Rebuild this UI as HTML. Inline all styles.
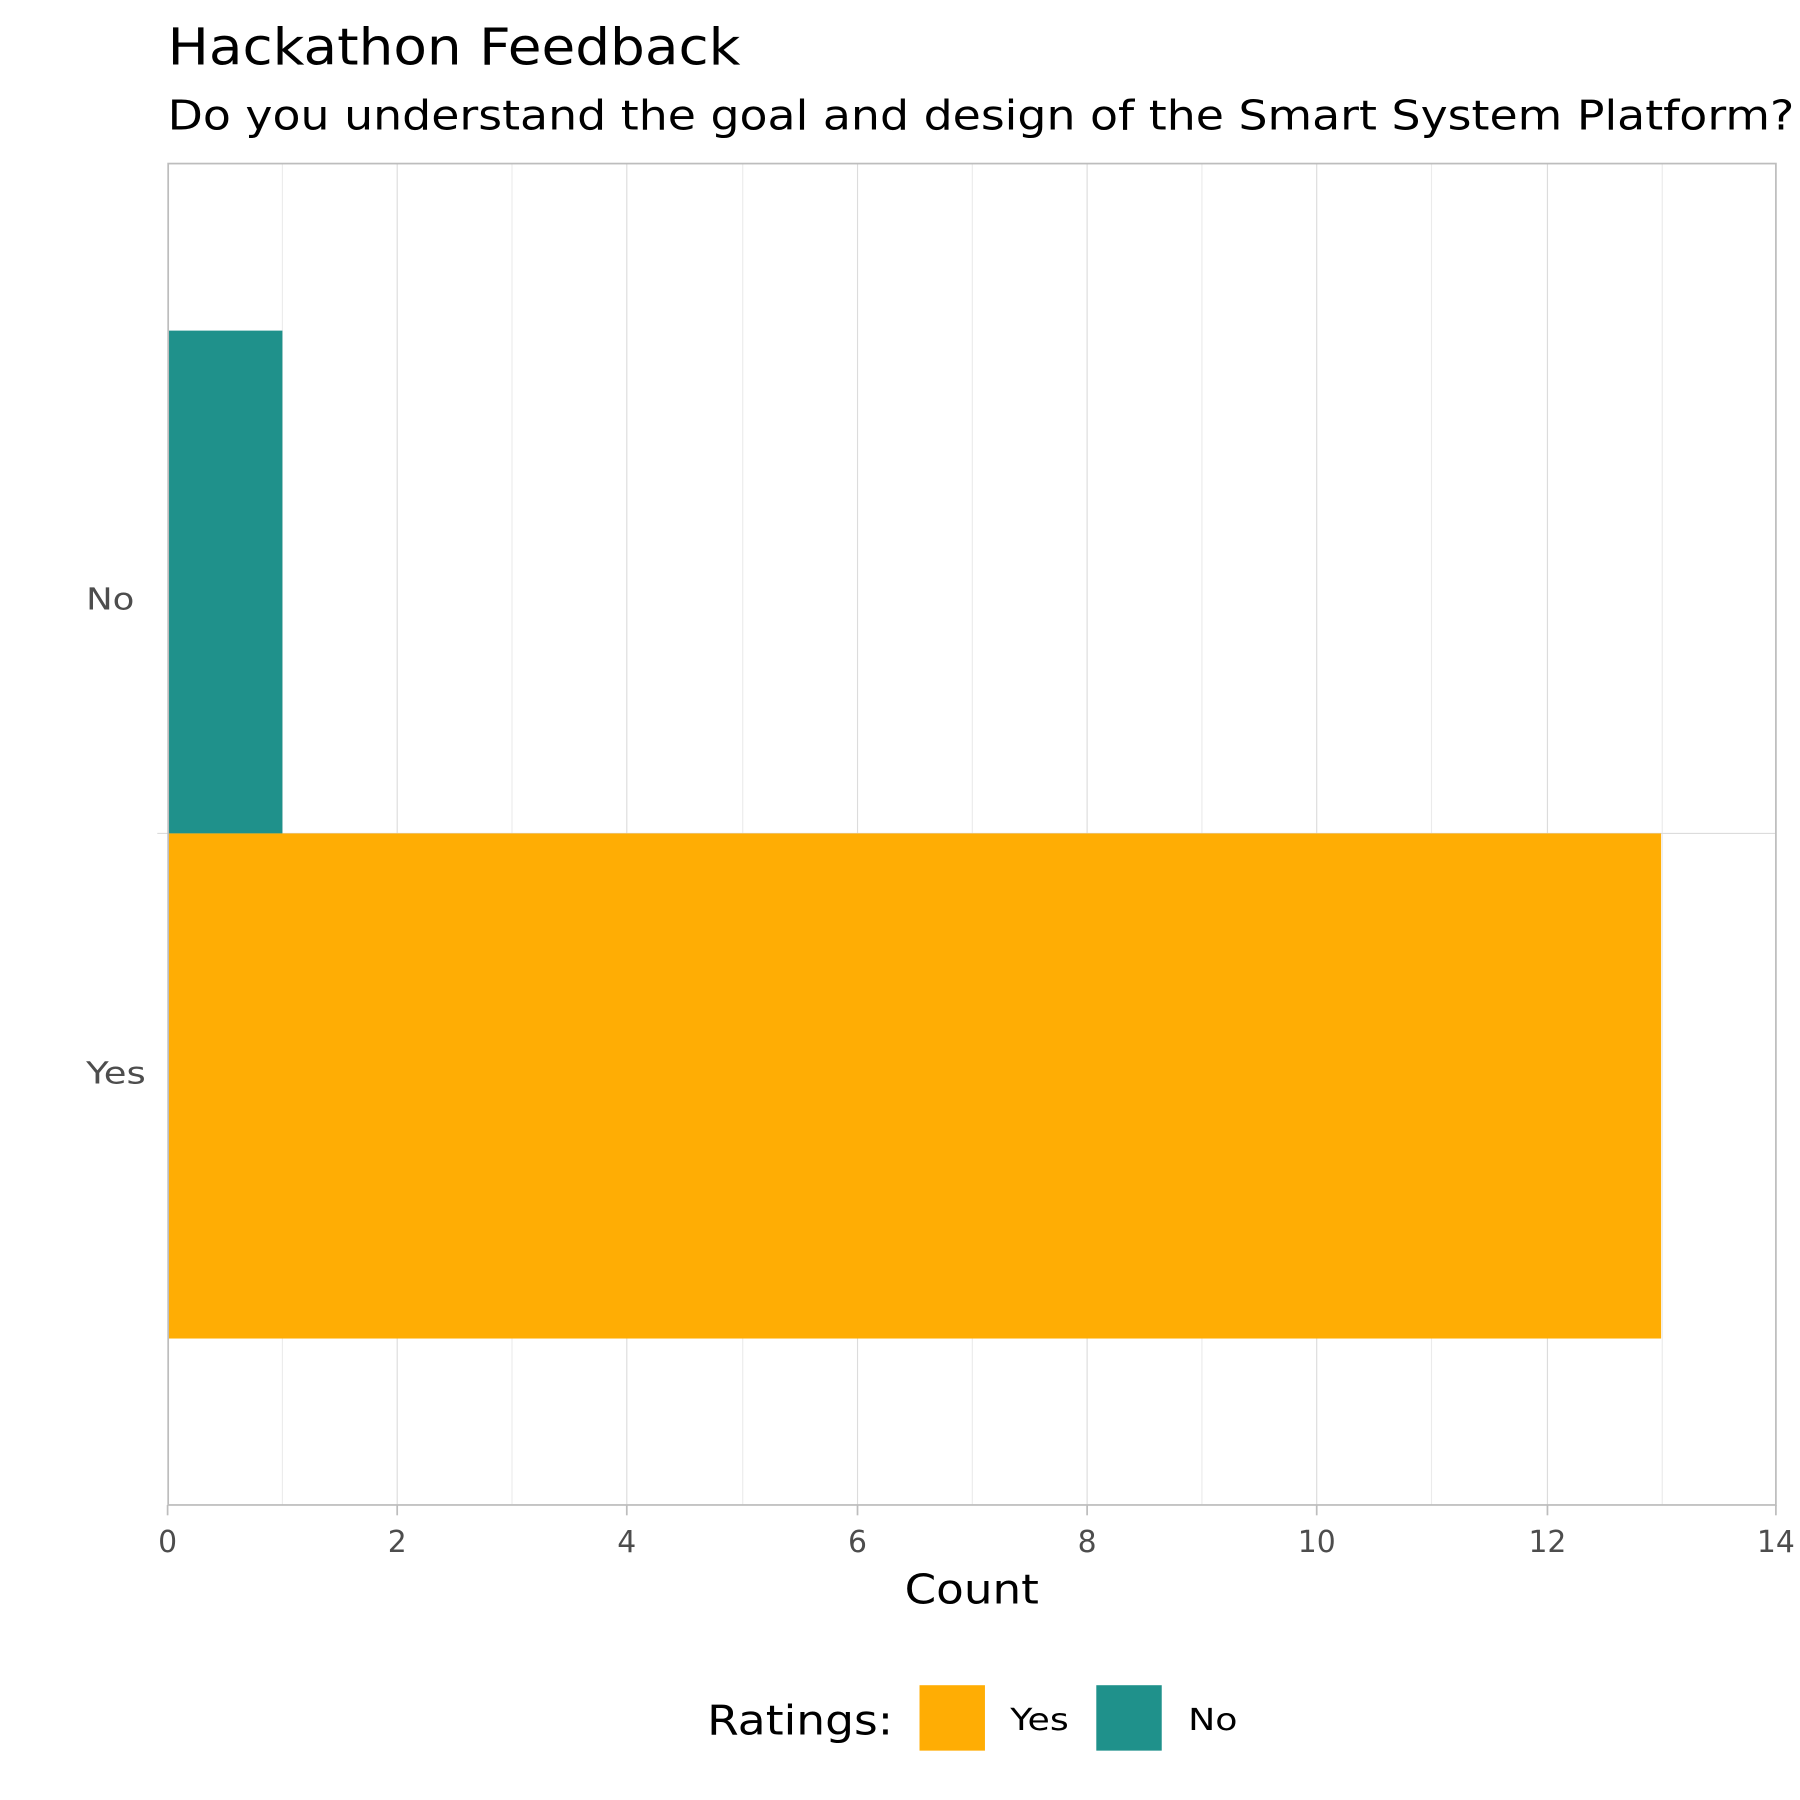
<!DOCTYPE html>
<html><head><meta charset="utf-8"><style>html,body{margin:0;padding:0;background:#fff}svg{display:block}</style></head>
<body>
<svg width="1800" height="1800" viewBox="0 0 1568 1568" xmlns="http://www.w3.org/2000/svg" font-family="DejaVu Sans, Liberation Sans, sans-serif">
<rect width="1568" height="1568" fill="#fff"/>
<text x="146" y="56" font-size="44" fill="#000" textLength="499" lengthAdjust="spacingAndGlyphs">Hackathon Feedback</text>
<text x="146" y="113" font-size="36" fill="#000" textLength="1417" lengthAdjust="spacingAndGlyphs">Do you understand the goal and design of the Smart System Platform?</text>
<g stroke-width="1">
<line x1="246" y1="142" x2="246" y2="1311" stroke="#ebebeb"/>
<line x1="446" y1="142" x2="446" y2="1311" stroke="#ebebeb"/>
<line x1="647" y1="142" x2="647" y2="1311" stroke="#ebebeb"/>
<line x1="847" y1="142" x2="847" y2="1311" stroke="#ebebeb"/>
<line x1="1047" y1="142" x2="1047" y2="1311" stroke="#ebebeb"/>
<line x1="1247" y1="142" x2="1247" y2="1311" stroke="#ebebeb"/>
<line x1="1448" y1="142" x2="1448" y2="1311" stroke="#ebebeb"/>
<line x1="346" y1="142" x2="346" y2="1311" stroke="#dcdcdc"/>
<line x1="546" y1="142" x2="546" y2="1311" stroke="#dcdcdc"/>
<line x1="747" y1="142" x2="747" y2="1311" stroke="#dcdcdc"/>
<line x1="947" y1="142" x2="947" y2="1311" stroke="#dcdcdc"/>
<line x1="1147" y1="142" x2="1147" y2="1311" stroke="#dcdcdc"/>
<line x1="1348" y1="142" x2="1348" y2="1311" stroke="#dcdcdc"/>
<line x1="137" y1="726" x2="1547" y2="726" stroke="#dcdcdc"/>
</g>
<rect x="146" y="288" width="100" height="438" fill="#1f918b"/>
<rect x="146" y="726" width="1301" height="440" fill="#ffad04"/>
<rect x="146.5" y="142.5" width="1400.5" height="1168.5" fill="none" stroke="#bdbdbd" stroke-width="1.5"/>
<g stroke="#bdbdbd" stroke-width="1.5">
<line x1="146" y1="1311" x2="146" y2="1320"/><line x1="346" y1="1311" x2="346" y2="1320"/>
<line x1="546" y1="1311" x2="546" y2="1320"/><line x1="747" y1="1311" x2="747" y2="1320"/>
<line x1="947" y1="1311" x2="947" y2="1320"/><line x1="1147" y1="1311" x2="1147" y2="1320"/>
<line x1="1348" y1="1311" x2="1348" y2="1320"/><line x1="1547" y1="1311" x2="1547" y2="1320"/>
</g>
<g font-size="26" fill="#4d4d4d" text-anchor="middle">
<text x="146" y="1352">0</text><text x="346" y="1352">2</text><text x="546" y="1352">4</text>
<text x="747" y="1352">6</text><text x="947" y="1352">8</text><text x="1147" y="1352">10</text>
<text x="1348" y="1352">12</text><text x="1547" y="1352">14</text>
</g>
<text x="75" y="531" font-size="26" fill="#4d4d4d" textLength="42" lengthAdjust="spacingAndGlyphs">No</text>
<text x="75" y="944" font-size="26" fill="#4d4d4d" textLength="52" lengthAdjust="spacingAndGlyphs">Yes</text>
<text x="788" y="1397" font-size="36" fill="#000" textLength="117" lengthAdjust="spacingAndGlyphs">Count</text>
<text x="616" y="1511" font-size="36" fill="#000" textLength="162" lengthAdjust="spacingAndGlyphs">Ratings:</text>
<rect x="801" y="1468" width="57" height="57" fill="#ffad04"/>
<text x="880" y="1507" font-size="26" fill="#000" textLength="51" lengthAdjust="spacingAndGlyphs">Yes</text>
<rect x="955" y="1468" width="57" height="57" fill="#1f918b"/>
<text x="1035" y="1507" font-size="26" fill="#000" textLength="43" lengthAdjust="spacingAndGlyphs">No</text>
</svg>
</body></html>
